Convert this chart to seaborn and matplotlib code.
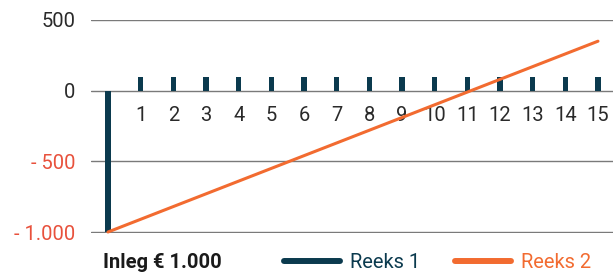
import numpy as np
import pandas as pd
import seaborn as sns
import matplotlib.pyplot as plt
from matplotlib.lines import Line2D

# data
jaren = list(range(0, 16))
reeks1 = [-1000] + [100] * 15
reeks2 = [-1000 + 90 * j for j in jaren]
ytick_waarden = [500, 0, -500, -1000]
ytick_labels = ['500', '0', '- 500', '- 1.000']
xtick_waarden = list(range(1, 16))

donker = '#0b3a4e'
oranje = '#f26b30'
rood = '#e8513c'
grijs = '#7a7a7a'
tekst = '#2a2a2a'

sns.set_theme(style='white')
plt.rcParams['font.family'] = ['Roboto', 'DejaVu Sans']

df = pd.DataFrame({'jaar': jaren, 'reeks1': reeks1, 'reeks2': reeks2})

fig = plt.figure(figsize=(6.14, 2.73), dpi=100)
ax = fig.add_axes([91 / 614, 1 - 233 / 273, 522 / 614, 213 / 273])

sns.barplot(data=df, x='jaar', y='reeks1', native_scale=True, width=0.17,
            color=donker, saturation=1, linewidth=0, ax=ax, zorder=3)
sns.lineplot(data=df, x='jaar', y='reeks2', color=oranje, linewidth=2.2,
             ax=ax, zorder=4)
for art in ax.patches + ax.lines:
    art.set_clip_on(False)

ax.set_xlim(-0.52, 15.46)
ax.set_ylim(-1007, 500)
ax.set_yticks(ytick_waarden)
ax.set_yticklabels(ytick_labels, fontsize=14.5)
for lab, v in zip(ax.get_yticklabels(), ytick_waarden):
    lab.set_color(rood if v < 0 else tekst)
ax.yaxis.grid(True, color=grijs, linewidth=1)
ax.tick_params(axis='y', length=0, pad=11)

for s in ['bottom', 'left', 'right', 'top']:
    ax.spines[s].set_visible(False)
ax.spines['bottom'].set_position(('data', 0))
ax.set_xticks(xtick_waarden)
ax.set_xticklabels([str(x) for x in xtick_waarden], fontsize=14.5, color=tekst)
ax.tick_params(axis='x', length=0, pad=11)
ax.set_xlabel('')
ax.set_ylabel('')

fig.text(103 / 614, 1 - 263 / 273, 'Inleg € 1.000', fontsize=14.5,
         fontweight='bold', color='#1a1a1a', va='center', ha='left')

handles = [Line2D([], [], color=donker, linewidth=4.3, solid_capstyle='round'),
           Line2D([], [], color=oranje, linewidth=4.3, solid_capstyle='round')]
leg = fig.legend(handles, ['Reeks 1', 'Reeks 2'], ncol=2, frameon=False,
                 loc='center left', bbox_to_anchor=(284 / 614, 1 - 263 / 273),
                 fontsize=14.5, handlelength=2.8, handletextpad=0.5,
                 columnspacing=1.7, borderaxespad=0, borderpad=0)
for t, c in zip(leg.get_texts(), [donker, oranje]):
    t.set_color(c)

fig.savefig('out.png', dpi=100)
